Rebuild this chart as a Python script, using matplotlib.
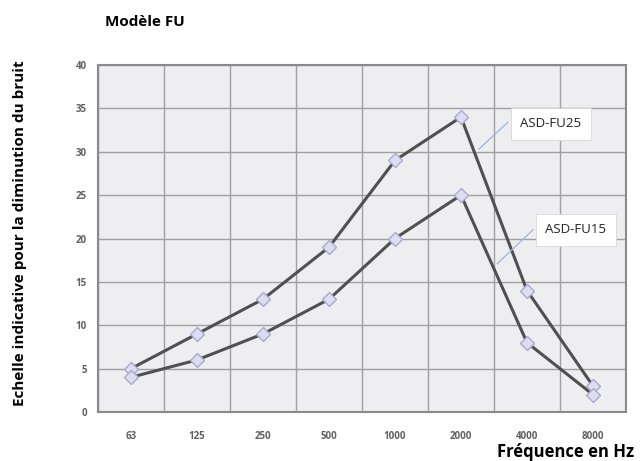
import numpy as np
import matplotlib
matplotlib.use('Agg')
import matplotlib.pyplot as plt

# Data
frequencies = ['63', '125', '250', '500', '1000', '2000', '4000', '8000']
fu25 = [5, 9, 13, 19, 29, 34, 14, 3]
fu15 = [4, 6, 9, 13, 20, 25, 8, 2]

plt.rcParams['font.family'] = ['Open Sans', 'DejaVu Sans']

LINE_COLOR = '#505050'
MARKER_FACE = '#dcdcf2'
MARKER_EDGE = '#a9a9c8'
LEADER_COLOR = '#9db4dc'

fig = plt.figure(figsize=(6.4, 4.61), dpi=100)
ax = fig.add_axes([98 / 640, 49 / 461, 528 / 640, 347 / 461])
ax.set_facecolor('#eeeef0')

x = np.arange(len(frequencies))
for series in (fu25, fu15):
    ax.plot(x, series, color=LINE_COLOR, lw=2.2, zorder=3, solid_joinstyle='round')
    ax.plot(x, series, ls='none', marker='D', ms=7, mfc=MARKER_FACE,
            mec=MARKER_EDGE, mew=1, zorder=4)

ax.set_xlim(-0.5, len(frequencies) - 0.5)
ax.set_ylim(0, 40)
ax.set_xticks(x)
ax.set_xticklabels(frequencies)
ax.set_xticks(np.arange(-0.5, len(frequencies)), minor=True)
ax.set_yticks(np.arange(0, 41, 5))
ax.grid(which='minor', axis='x', color='#a0a0a0', lw=1)
ax.grid(which='major', axis='y', color='#a0a0a0', lw=1)
ax.tick_params(which='both', length=0)
ax.tick_params(axis='both', labelsize=7, colors='#606060')
ax.tick_params(axis='x', pad=14)
ax.tick_params(axis='y', pad=8)
for lbl in ax.get_xticklabels() + ax.get_yticklabels():
    lbl.set_fontweight('bold')
for s in ax.spines.values():
    s.set_color('#8a8a8a')
    s.set_linewidth(1.5)

# Series labels with leader lines
ax.plot([5.71, 5.27], [33.4, 30.3], color=LEADER_COLOR, lw=0.9, zorder=5)
ax.plot([6.09, 5.55], [21.0, 17.1], color=LEADER_COLOR, lw=0.9, zorder=5)
box = dict(boxstyle='square,pad=0.7', fc='white', ec='#d8d8d8', lw=0.6)
ax.text(6.36, 33.2, 'ASD-FU25', fontsize=9.5, ha='center', va='center',
        color='#222222', bbox=box, zorder=6)
ax.text(6.74, 21.0, 'ASD-FU15', fontsize=9.5, ha='center', va='center',
        color='#222222', bbox=box, zorder=6)

fig.text(105 / 640, 1 - 22 / 461, 'Modèle FU', fontsize=11, fontweight='bold',
         ha='left', va='center')
fig.text(20 / 640, 1 - 233 / 461, 'Echelle indicative pour la diminution du bruit',
         fontsize=11, fontweight='bold', rotation=90, ha='center', va='center')
fig.text(634 / 640, 1 - 452 / 461, 'Fréquence en Hz', fontsize=12,
         fontweight='bold', ha='right', va='center')

fig.savefig('out.png', dpi=100, facecolor='white')
